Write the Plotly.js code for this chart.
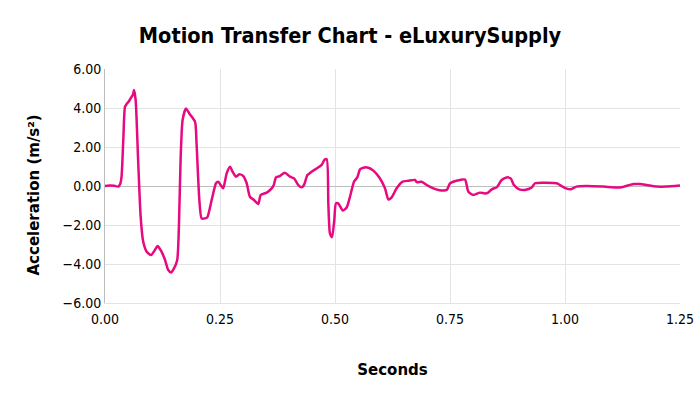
<!DOCTYPE html>
<html>
<head>
<meta charset="utf-8">
<script src="https://cdn.plot.ly/plotly-3.0.1.min.js"></script>
<style>html,body{margin:0;padding:0;background:#fff;}#chart{width:700px;height:394px;}</style>
</head>
<body>
<div id="chart"></div>
<script>
const seconds = [0.000,0.010,0.020,0.029,0.033,0.036,0.040,0.0435,0.047,0.052,0.058,0.061,0.063,0.0666,0.072,0.0775,0.083,0.0906,0.100,0.1085,0.1143,0.1217,0.130,0.1375,0.1435,0.150,0.157,0.1607,0.1643,0.1687,0.176,0.183,0.1957,0.199,0.2051,0.210,0.217,0.2225,0.2319,0.2413,0.246,0.2515,0.257,0.2645,0.2717,0.2775,0.2848,0.292,0.3007,0.308,0.315,0.324,0.3333,0.3384,0.3515,0.3623,0.367,0.3717,0.380,0.391,0.402,0.411,0.4203,0.4275,0.4326,0.440,0.449,0.460,0.471,0.4768,0.482,0.4855,0.489,0.4935,0.4985,0.502,0.507,0.517,0.5254,0.5326,0.5413,0.5485,0.5543,0.5616,0.5725,0.5833,0.5964,0.6087,0.616,0.6232,0.634,0.647,0.6594,0.674,0.6775,0.6884,0.6993,0.7138,0.7246,0.743,0.750,0.757,0.7717,0.7826,0.790,0.8007,0.815,0.826,0.833,0.8406,0.8515,0.8623,0.873,0.882,0.889,0.9007,0.913,0.9275,0.9348,0.9529,0.9819,0.989,1.002,1.013,1.025,1.047,1.083,1.120,1.149,1.163,1.178,1.200,1.220,1.250];
const acceleration = [0.00,0.02,0.01,-0.03,0.10,0.48,2.5,4.07,4.20,4.35,4.58,4.70,4.92,4.41,1.33,-1.57,-2.85,-3.37,-3.54,-3.28,-3.08,-3.32,-3.76,-4.31,-4.43,-4.22,-3.79,-2.09,1.33,3.38,3.98,3.73,3.30,2.19,-0.72,-1.66,-1.66,-1.60,-0.72,0.14,0.22,0.05,-0.12,0.65,0.99,0.73,0.48,0.60,0.51,0.14,-0.55,-0.72,-0.92,-0.46,-0.34,-0.12,0.05,0.44,0.51,0.68,0.48,0.39,0.05,-0.07,0.05,0.56,0.73,0.90,1.08,1.33,1.37,-0.89,-2.43,-2.63,-1.74,-0.89,-0.89,-1.26,-1.10,-0.55,0.22,0.44,0.85,0.94,0.94,0.79,0.44,-0.12,-0.69,-0.58,-0.12,0.22,0.27,0.31,0.20,0.22,0.05,-0.12,-0.20,-0.20,0.14,0.22,0.31,0.33,-0.29,-0.46,-0.34,-0.38,-0.34,-0.17,-0.07,0.31,0.44,0.39,0.05,-0.17,-0.20,-0.08,0.14,0.17,0.14,0.05,-0.12,-0.17,-0.03,0.00,-0.03,-0.08,0.10,0.10,0.05,-0.03,-0.03,0.03];
const xTicks = [0, 0.25, 0.5, 0.75, 1.0, 1.25];
const yTicks = [-6, -4, -2, 0, 2, 4, 6];

const font = 'Tahoma, "DejaVu Sans", Verdana, sans-serif';
const condensed = '"DejaVu Sans Condensed", Tahoma, "DejaVu Sans", sans-serif';
Plotly.newPlot('chart', [{
  x: seconds, y: acceleration, type: 'scatter', mode: 'lines',
  line: {color: '#E6097F', width: 2.5, shape: 'spline', smoothing: 0.6},
  hoverinfo: 'skip'
}], {
  width: 700, height: 394,
  margin: {l: 105, r: 20, t: 69, b: 91},
  paper_bgcolor: '#fff', plot_bgcolor: '#fff',
  showlegend: false,
  font: {family: condensed, color: '#000', size: 14},
  title: {text: '<b>Motion Transfer Chart - eLuxurySupply</b>', x: 0.5, xanchor: 'center', y: 0.91, yref: 'container', yanchor: 'middle', font: {family: condensed, size: 21.5, color: '#000'}},
  xaxis: {range: [0, 1.25], tickvals: xTicks, tickformat: '.2f', showgrid: true, gridcolor: '#e3e3e3', gridwidth: 1,
    zeroline: false, showline: true, linecolor: '#e3e3e3', ticks: '', ticklabelstandoff: 3,
    tickfont: {family: condensed, size: 14},
    title: {text: '<b>Seconds</b>', standoff: 38, font: {family: font, size: 15}}},
  yaxis: {range: [-6, 6], tickvals: yTicks, tickformat: '.2f', showgrid: true, gridcolor: '#e3e3e3', gridwidth: 1,
    zeroline: true, zerolinecolor: '#bdbdbd', zerolinewidth: 1, showline: true, linecolor: '#bdbdbd', ticks: '',
    tickfont: {family: condensed, size: 14}},
  annotations: [{text: '<b>Acceleration (m/s²)</b>', textangle: -90, xref: 'paper', yref: 'paper',
    x: -0.1226, y: 0.4615, xanchor: 'center', yanchor: 'middle', showarrow: false,
    font: {family: font, size: 15, color: '#000'}}]
}, {staticPlot: true});
</script>
</body>
</html>
